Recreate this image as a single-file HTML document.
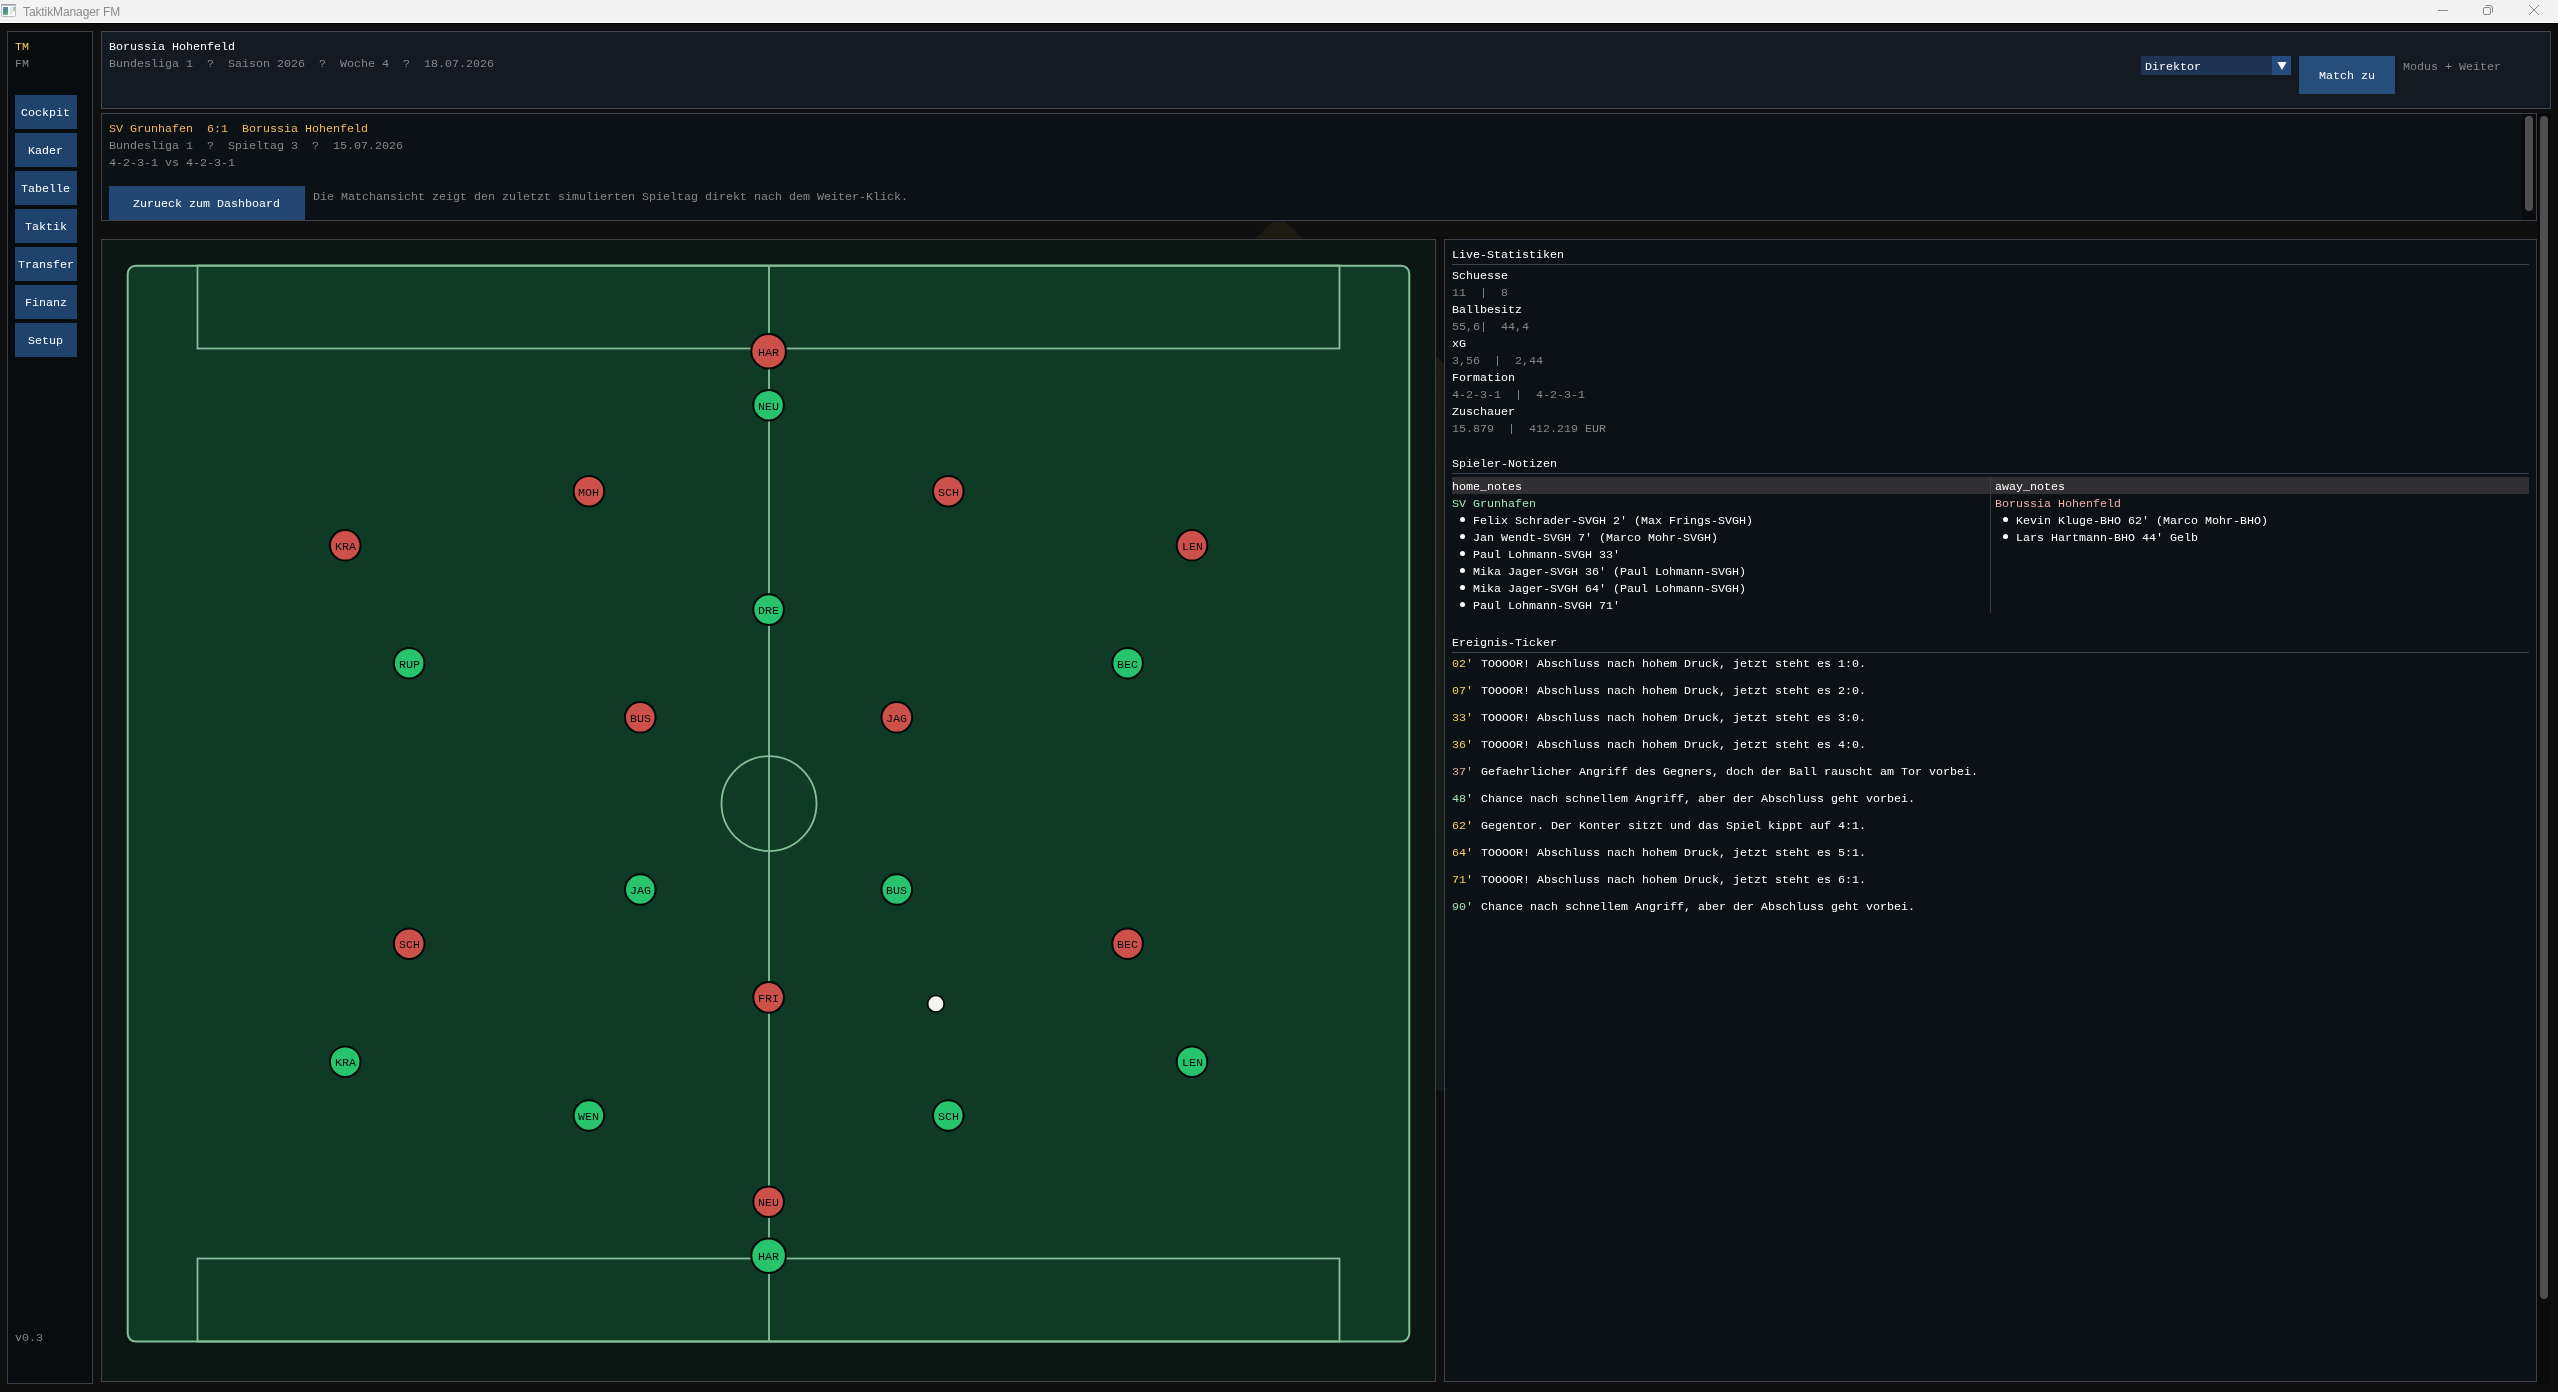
<!DOCTYPE html>
<html lang="de"><head><meta charset="utf-8"><title>TaktikManager FM</title>
<style>
html,body{margin:0;padding:0;background:#0f0f0f;}
body{width:2558px;height:1392px;position:relative;overflow:hidden;}
#app{position:absolute;left:0;top:0;width:2558px;height:1392px;overflow:hidden;background:#0f0f0f;will-change:transform;
  font:11.67px/13px "Liberation Mono",monospace;letter-spacing:0.005px;color:#fff;}
#app div,#app span,#app nav,#app header,#app section{position:absolute;box-sizing:border-box;}
.t{white-space:pre;}
.w{white-space:pre;font:12px/16px "Liberation Sans",sans-serif;letter-spacing:-0.1px;color:#8b8b8b;}
.panel{overflow:hidden;}
svg{position:absolute;left:0;top:0;overflow:visible;}
svg text{font:11.67px "Liberation Mono",monospace;letter-spacing:0.005px;fill:#0a0a0a;white-space:pre;}
.grab{border-radius:4px;background:#4f4f4f;}
</style></head><body>
<div id="app">
<div class="titlebar" style="left:0px;top:0px;width:2558px;height:24px;background:#f3f3f3;border-bottom:1px solid #000;">
<div class="b" style="left:0px;top:22px;width:2558px;height:1px;background:#ffffff;"></div>
<svg width="20" height="22" viewBox="0 0 20 22"><defs><linearGradient id="ig" x1="0" y1="0" x2="0.6" y2="1"><stop offset="0" stop-color="#6b8fc4"/><stop offset="0.5" stop-color="#4a8c90"/><stop offset="1" stop-color="#5aae6a"/></linearGradient><linearGradient id="ih" x1="0" y1="0" x2="0" y2="1"><stop offset="0" stop-color="#8fa8cc"/><stop offset="1" stop-color="#b4dfb4"/></linearGradient></defs><rect x="1.5" y="4.5" width="14" height="12" rx="0.8" fill="#fcfcfd" stroke="#bcbfc4"/><rect x="1.3" y="4" width="14.4" height="1.6" fill="#9c9ea2"/><rect x="3" y="7" width="5" height="7.8" fill="url(#ig)"/><rect x="10" y="7" width="2.3" height="7.6" fill="#e2e2e2"/><rect x="13" y="7" width="2" height="4.5" fill="url(#ih)"/></svg>
<span class="w" style="left:23px;top:4px">TaktikManager FM</span>
<svg width="2558" height="22" viewBox="0 0 2558 22"><g fill="none" stroke="#8a8a8a" stroke-width="1"><path d="M2438 10.5H2448"/><rect x="2483.5" y="7.5" width="7" height="7" rx="1.5"/><path d="M2485.5 5.5H2490a2.5 2.5 0 0 1 2.5 2.5V12.5"/><path d="M2529 5L2539 15M2539 5L2529 15"/></g></svg>
</div>
<svg width="2558" height="1392" viewBox="0 0 2558 1392"><defs><linearGradient id="gg" x1="0" y1="0" x2="0" y2="1"><stop offset="0" stop-color="#1e1c14"/><stop offset="1" stop-color="#111c1a"/></linearGradient></defs><polygon points="1279,215 1255,239 1303,239" fill="#1d1a13"/><polygon points="1436,356 1444,364 1444,1091 1436,1091" fill="url(#gg)"/></svg>
<nav class="panel sidebar" style="left:7px;top:31px;width:86px;height:1353px;background:#080c0f;box-shadow:inset 0 0 0 1px #3b3d48;">
<span class="t" style="left:8px;top:10px;color:#f5d060">TM</span>
<span class="t" style="left:8px;top:27px;color:#868686">FM</span>
<div class="btn" style="left:8px;top:64px;width:62px;height:34px;background:#20436e"><span class="t" style="left:6px;top:12px">Cockpit</span></div>
<div class="btn" style="left:8px;top:102px;width:62px;height:34px;background:#20436e"><span class="t" style="left:13px;top:12px">Kader</span></div>
<div class="btn" style="left:8px;top:140px;width:62px;height:34px;background:#20436e"><span class="t" style="left:6px;top:12px">Tabelle</span></div>
<div class="btn" style="left:8px;top:178px;width:62px;height:34px;background:#20436e"><span class="t" style="left:10px;top:12px">Taktik</span></div>
<div class="btn" style="left:8px;top:216px;width:62px;height:34px;background:#20436e"><span class="t" style="left:3px;top:12px">Transfer</span></div>
<div class="btn" style="left:8px;top:254px;width:62px;height:34px;background:#20436e"><span class="t" style="left:10px;top:12px">Finanz</span></div>
<div class="btn" style="left:8px;top:292px;width:62px;height:34px;background:#20436e"><span class="t" style="left:13px;top:12px">Setup</span></div>
<span class="t" style="left:8px;top:1301px;color:#868686">v0.3</span>
</nav>
<header class="panel topbar" style="left:101px;top:31px;width:2450px;height:78px;background:#131a22;box-shadow:inset 0 0 0 1px #404451;">
<span class="t" style="left:8px;top:10px">Borussia Hohenfeld</span>
<span class="t" style="left:8px;top:27px;color:#868686">Bundesliga 1  ?  Saison 2026  ?  Woche 4  ?  18.07.2026</span>
<div class="combo" style="left:2040px;top:25px;width:150px;height:19px;background:#1f3352"><span class="t" style="left:4px;top:5px">Direktor</span><div class="arrow" style="left:131px;top:0;width:19px;height:19px;background:#254b7c"><svg width="19" height="19" viewBox="0 0 19 19"><polygon points="5.5,6 14.5,6 10,14" fill="#fff"/></svg></div></div>
<div class="btn" style="left:2198px;top:25px;width:96px;height:38px;background:#274d7b"><span class="t" style="left:20px;top:14px">Match zu</span></div>
<span class="t" style="left:2302px;top:30px;color:#868686">Modus + Weiter</span>
</header>
<div class="scrollbar" style="left:2537px;top:113px;width:14px;height:1271px;background:#0b0b0b;">
<div class="grab" style="left:3px;top:3px;width:8px;height:1183px;background:#4f4f4f;"></div>
</div>
<section class="panel match" style="left:101px;top:113px;width:2436px;height:108px;background:#0c1115;">
<span class="t" style="left:8px;top:10px;color:#f4b95a">SV Grunhafen  6:1  Borussia Hohenfeld</span>
<span class="t" style="left:8px;top:27px;color:#868686">Bundesliga 1  ?  Spieltag 3  ?  15.07.2026</span>
<span class="t" style="left:8px;top:44px;color:#868686">4-2-3-1 vs 4-2-3-1</span>
<div class="btn" style="left:8px;top:73px;width:196px;height:34px;background:#234772"><span class="t" style="left:24px;top:12px">Zurueck zum Dashboard</span></div>
<span class="t" style="left:212px;top:78px;color:#868686">Die Matchansicht zeigt den zuletzt simulierten Spieltag direkt nach dem Weiter-Klick.</span>
<div class="b" style="left:2421px;top:1px;width:14px;height:106px;background:#090b0e;"></div>
<div class="grab" style="left:2424px;top:3px;width:8px;height:95px;background:#4f4f4f;"></div>
<div class="frame" style="left:0px;top:0px;width:2436px;height:108px;background:none;box-shadow:inset 0 0 0 1px #3d3f4a;"></div>
</section>
<section class="panel pitch" style="left:101px;top:239px;width:1335px;height:1143px;background:#0c1612;box-shadow:inset 0 0 0 1px #3d4249;">
<svg width="1335" height="1143" viewBox="101 239 1335 1143">
<rect x="127.7" y="265.7" width="1281.6" height="1075.9" rx="8" fill="#0f3a25" stroke="#84bf99" stroke-width="2"/>
<g fill="none" stroke="#84bf99" stroke-width="1.8">
<line x1="769" y1="265.5" x2="769" y2="1341.5"/>
<circle cx="769" cy="803.6" r="47.5"/>
<rect x="197.5" y="265.5" width="1142" height="83"/>
<rect x="197.5" y="1258.5" width="1142" height="83"/>
</g>
<g class="team away" stroke="#040806" stroke-width="2">
<g class="player"><circle cx="768.6" cy="351.3" r="17.3" fill="#cd514b"/><text x="758" y="356" stroke="none">HAR</text></g>
<g class="player"><circle cx="588.9" cy="491.2" r="15.3" fill="#cd514b"/><text x="578" y="496" stroke="none">MOH</text></g>
<g class="player"><circle cx="948.3" cy="491.2" r="15.3" fill="#cd514b"/><text x="938" y="496" stroke="none">SCH</text></g>
<g class="player"><circle cx="345.2" cy="545.3" r="15.3" fill="#cd514b"/><text x="335" y="550" stroke="none">KRA</text></g>
<g class="player"><circle cx="1192" cy="545.3" r="15.3" fill="#cd514b"/><text x="1182" y="550" stroke="none">LEN</text></g>
<g class="player"><circle cx="640.3" cy="717.3" r="15.3" fill="#cd514b"/><text x="630" y="722" stroke="none">BUS</text></g>
<g class="player"><circle cx="896.8" cy="717.3" r="15.3" fill="#cd514b"/><text x="886" y="722" stroke="none">JAG</text></g>
<g class="player"><circle cx="409.2" cy="943.7" r="15.3" fill="#cd514b"/><text x="399" y="948" stroke="none">SCH</text></g>
<g class="player"><circle cx="1127.6" cy="943.7" r="15.3" fill="#cd514b"/><text x="1117" y="948" stroke="none">BEC</text></g>
<g class="player"><circle cx="768.6" cy="997.4" r="15.3" fill="#cd514b"/><text x="758" y="1002" stroke="none">FRI</text></g>
<g class="player"><circle cx="768.6" cy="1201.7" r="15.3" fill="#cd514b"/><text x="758" y="1206" stroke="none">NEU</text></g>
</g>
<g class="team home" stroke="#040806" stroke-width="2">
<g class="player"><circle cx="768.6" cy="405.2" r="15.3" fill="#27c46d"/><text x="758" y="410" stroke="none">NEU</text></g>
<g class="player"><circle cx="768.6" cy="609.6" r="15.3" fill="#27c46d"/><text x="758" y="614" stroke="none">DRE</text></g>
<g class="player"><circle cx="409.2" cy="663.2" r="15.3" fill="#27c46d"/><text x="399" y="668" stroke="none">RUP</text></g>
<g class="player"><circle cx="1127.6" cy="663.2" r="15.3" fill="#27c46d"/><text x="1117" y="668" stroke="none">BEC</text></g>
<g class="player"><circle cx="640.3" cy="889.5" r="15.3" fill="#27c46d"/><text x="630" y="894" stroke="none">JAG</text></g>
<g class="player"><circle cx="896.8" cy="889.5" r="15.3" fill="#27c46d"/><text x="886" y="894" stroke="none">BUS</text></g>
<g class="player"><circle cx="345.2" cy="1061.7" r="15.3" fill="#27c46d"/><text x="335" y="1066" stroke="none">KRA</text></g>
<g class="player"><circle cx="1192" cy="1061.7" r="15.3" fill="#27c46d"/><text x="1182" y="1066" stroke="none">LEN</text></g>
<g class="player"><circle cx="588.9" cy="1115.5" r="15.3" fill="#27c46d"/><text x="578" y="1120" stroke="none">WEN</text></g>
<g class="player"><circle cx="948.3" cy="1115.5" r="15.3" fill="#27c46d"/><text x="938" y="1120" stroke="none">SCH</text></g>
<g class="player"><circle cx="768.6" cy="1255.7" r="17.3" fill="#27c46d"/><text x="758" y="1260" stroke="none">HAR</text></g>
</g>
<circle class="ball" cx="935.9" cy="1003.8" r="8.3" fill="#f4f4f0" stroke="#040806" stroke-width="1.7"/>
</svg>
</section>
<section class="panel stats" style="left:1444px;top:239px;width:1093px;height:1143px;background:#0c1115;box-shadow:inset 0 0 0 1px #3d3f4a;">
<span class="t" style="left:8px;top:10px">Live-Statistiken</span>
<div class="sep" style="left:8px;top:25px;width:1077px;height:1px;background:#3d3f4a;"></div>
<span class="t" style="left:8px;top:31px">Schuesse</span>
<span class="t" style="left:8px;top:48px;color:#868686">11  |  8</span>
<span class="t" style="left:8px;top:65px">Ballbesitz</span>
<span class="t" style="left:8px;top:82px;color:#868686">55,6|  44,4</span>
<span class="t" style="left:8px;top:99px">xG</span>
<span class="t" style="left:8px;top:116px;color:#868686">3,56  |  2,44</span>
<span class="t" style="left:8px;top:133px">Formation</span>
<span class="t" style="left:8px;top:150px;color:#868686">4-2-3-1  |  4-2-3-1</span>
<span class="t" style="left:8px;top:167px">Zuschauer</span>
<span class="t" style="left:8px;top:184px;color:#868686">15.879  |  412.219 EUR</span>
<span class="t" style="left:8px;top:219px">Spieler-Notizen</span>
<div class="sep" style="left:8px;top:234px;width:1077px;height:1px;background:#3d3f4a;"></div>
<div class="thead" style="left:8px;top:238px;width:1077px;height:17px;background:#303033;"></div>
<div class="colsep" style="left:546px;top:238px;width:1px;height:136px;background:#3b3b40;"></div>
<span class="t" style="left:8px;top:242px">home_notes</span>
<span class="t" style="left:551px;top:242px">away_notes</span>
<span class="t" style="left:8px;top:259px;color:#9ce6b4">SV Grunhafen</span>
<span class="t" style="left:551px;top:259px;color:#ecb0a6">Borussia Hohenfeld</span>
<div class="dot" style="left:15.9px;top:277.8px;width:5.4px;height:5.4px;border-radius:50%;background:#fff"></div>
<span class="t" style="left:29px;top:276px">Felix Schrader-SVGH 2' (Max Frings-SVGH)</span>
<div class="dot" style="left:15.9px;top:294.8px;width:5.4px;height:5.4px;border-radius:50%;background:#fff"></div>
<span class="t" style="left:29px;top:293px">Jan Wendt-SVGH 7' (Marco Mohr-SVGH)</span>
<div class="dot" style="left:15.9px;top:311.8px;width:5.4px;height:5.4px;border-radius:50%;background:#fff"></div>
<span class="t" style="left:29px;top:310px">Paul Lohmann-SVGH 33'</span>
<div class="dot" style="left:15.9px;top:328.8px;width:5.4px;height:5.4px;border-radius:50%;background:#fff"></div>
<span class="t" style="left:29px;top:327px">Mika Jager-SVGH 36' (Paul Lohmann-SVGH)</span>
<div class="dot" style="left:15.9px;top:345.8px;width:5.4px;height:5.4px;border-radius:50%;background:#fff"></div>
<span class="t" style="left:29px;top:344px">Mika Jager-SVGH 64' (Paul Lohmann-SVGH)</span>
<div class="dot" style="left:15.9px;top:362.8px;width:5.4px;height:5.4px;border-radius:50%;background:#fff"></div>
<span class="t" style="left:29px;top:361px">Paul Lohmann-SVGH 71'</span>
<div class="dot" style="left:558.9px;top:277.8px;width:5.4px;height:5.4px;border-radius:50%;background:#fff"></div>
<span class="t" style="left:572px;top:276px">Kevin Kluge-BHO 62' (Marco Mohr-BHO)</span>
<div class="dot" style="left:558.9px;top:294.8px;width:5.4px;height:5.4px;border-radius:50%;background:#fff"></div>
<span class="t" style="left:572px;top:293px">Lars Hartmann-BHO 44' Gelb</span>
<span class="t" style="left:8px;top:398px">Ereignis-Ticker</span>
<div class="sep" style="left:8px;top:413px;width:1077px;height:1px;background:#3d3f4a;"></div>
<span class="t" style="left:8px;top:419px;color:#f5d060">02'</span>
<span class="t" style="left:37px;top:419px">TOOOOR! Abschluss nach hohem Druck, jetzt steht es 1:0.</span>
<span class="t" style="left:8px;top:446px;color:#f5d060">07'</span>
<span class="t" style="left:37px;top:446px">TOOOOR! Abschluss nach hohem Druck, jetzt steht es 2:0.</span>
<span class="t" style="left:8px;top:473px;color:#f5d060">33'</span>
<span class="t" style="left:37px;top:473px">TOOOOR! Abschluss nach hohem Druck, jetzt steht es 3:0.</span>
<span class="t" style="left:8px;top:500px;color:#f5d060">36'</span>
<span class="t" style="left:37px;top:500px">TOOOOR! Abschluss nach hohem Druck, jetzt steht es 4:0.</span>
<span class="t" style="left:8px;top:527px;color:#e0a8a0">37'</span>
<span class="t" style="left:37px;top:527px">Gefaehrlicher Angriff des Gegners, doch der Ball rauscht am Tor vorbei.</span>
<span class="t" style="left:8px;top:554px;color:#a5e0b5">48'</span>
<span class="t" style="left:37px;top:554px">Chance nach schnellem Angriff, aber der Abschluss geht vorbei.</span>
<span class="t" style="left:8px;top:581px;color:#f5d060">62'</span>
<span class="t" style="left:37px;top:581px">Gegentor. Der Konter sitzt und das Spiel kippt auf 4:1.</span>
<span class="t" style="left:8px;top:608px;color:#f5d060">64'</span>
<span class="t" style="left:37px;top:608px">TOOOOR! Abschluss nach hohem Druck, jetzt steht es 5:1.</span>
<span class="t" style="left:8px;top:635px;color:#f5d060">71'</span>
<span class="t" style="left:37px;top:635px">TOOOOR! Abschluss nach hohem Druck, jetzt steht es 6:1.</span>
<span class="t" style="left:8px;top:662px;color:#a5e0b5">90'</span>
<span class="t" style="left:37px;top:662px">Chance nach schnellem Angriff, aber der Abschluss geht vorbei.</span>
</section>
</div>
</body></html>
